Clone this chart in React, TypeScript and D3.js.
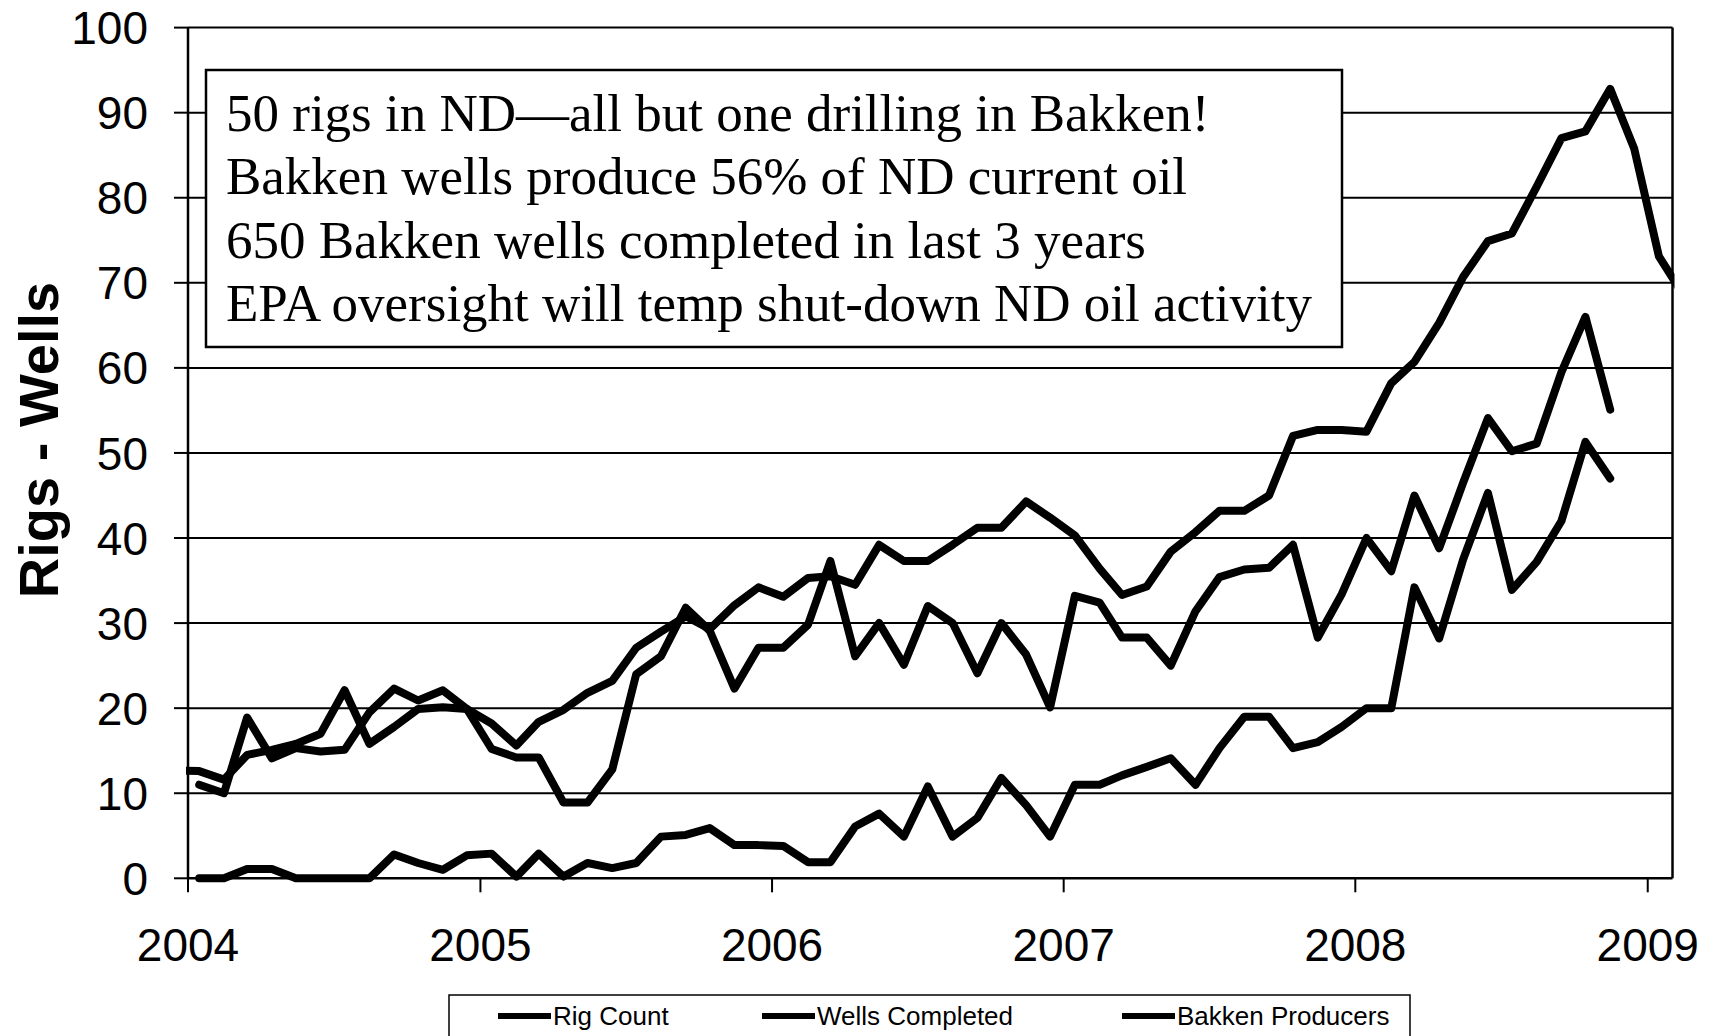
import * as d3 from 'd3'

// monthly values, plotted at mid-month
const rigStart = { year: 2003, month: 11 } // Dec 2003
const rigCount = [
  12.7,
  12.6, 11.6, 14.5, 15.1, 15.8, 17.0, 22.1, 15.8, 17.8, 19.9, 20.1, 19.9,
  18.2, 15.6, 18.4, 19.8, 21.8, 23.2, 27.1, 29.0, 30.8, 29.3, 32.1, 34.2,
  33.1, 35.3, 35.5, 34.5, 39.2, 37.3, 37.3, 39.2, 41.2, 41.2, 44.3, 42.4,
  40.3, 36.4, 33.3, 34.3, 38.4, 40.7, 43.2, 43.2, 45.0, 52.0, 52.7, 52.7,
  52.5, 58.2, 60.7, 65.3, 70.7, 74.9, 75.8, 81.3, 87.0, 87.8, 92.8, 85.8,
  73.1, 68.5,
]

const wellsStart = { year: 2004, month: 0 }
const wellsCompleted = [
  11.0, 10.0, 18.9, 14.1, 15.3, 14.9, 15.1, 19.5, 22.3, 20.9, 22.1, 19.9,
  15.2, 14.2, 14.2, 8.9, 8.9, 12.8, 24.0, 26.1, 31.8, 29.1, 22.3, 27.1,
  27.1, 29.8, 37.3, 26.1, 30.0, 25.1, 32.0, 30.0, 24.1, 30.0, 26.3, 20.1,
  33.2, 32.4, 28.3, 28.3, 25.0, 31.4, 35.4, 36.3, 36.5, 39.2, 28.3, 33.4,
  40.0, 36.1, 45.0, 38.8, 46.5, 54.1, 50.2, 51.1, 59.5, 66.0, 55.1,
]

const bakkenStart = { year: 2004, month: 0 }
const bakkenProducers = [
  0, 0, 1.1, 1.1, 0, 0, 0, 0, 2.8, 1.8, 1.0, 2.7,
  2.9, 0.2, 2.9, 0.2, 1.8, 1.2, 1.8, 4.9, 5.1, 5.9, 3.9, 3.9,
  3.8, 1.9, 1.9, 6.1, 7.6, 4.9, 10.8, 4.9, 7.1, 11.8, 8.6, 4.9,
  11.0, 11.0, 12.1, 13.1, 14.1, 11.0, 15.3, 19.0, 19.0, 15.3, 16.0, 17.8,
  20.0, 20.0, 34.2, 28.2, 37.5, 45.3, 33.9, 37.2, 42.0, 51.3, 47.0,
]

const yearTicks = [2004, 2005, 2006, 2007, 2008, 2009]
const valueTicks = [0, 10, 20, 30, 40, 50, 60, 70, 80, 90, 100]
const notes = [
  '50 rigs in ND\u2014all but one drilling in Bakken!',
  'Bakken wells produce 56% of ND current oil',
  '650 Bakken wells completed in last 3 years',
  'EPA oversight will temp shut-down ND oil activity',
]
const legendNames = ['Rig Count', 'Wells Completed', 'Bakken Producers']

const W = 1727
const H = 1036
const left = 188
const right = 1672.5
const sans = '"Liberation Sans", Arial, sans-serif'
const serif = '"Liberation Serif", "Times New Roman", serif'

type Pt = { date: Date; v: number }

function toPoints(vals: number[], start: { year: number; month: number }): Pt[] {
  return vals.map((v, i) => ({ date: new Date(Date.UTC(start.year, start.month + i, 15)), v }))
}

export default function App() {
  const x = d3.scaleUtc()
    .domain([new Date(Date.UTC(2004, 0, 1)), new Date(Date.UTC(2009, 1, 1))])
    .range([left, right])
  const y = d3.scaleLinear().domain([0, 100]).range([878.3, 27.6])

  const line = d3.line<Pt>().x(d => x(d.date)).y(d => y(d.v))

  const series = [
    toPoints(rigCount, rigStart),
    toPoints(wellsCompleted, wellsStart),
    toPoints(bakkenProducers, bakkenStart),
  ]

  const legendX = [498, 762, 1122]

  return (
    <svg width={W} height={H} style={{ position: 'absolute', left: 0, top: 0, background: '#fff' }}>
      <defs>
        <clipPath id="plot">
          <rect x={left - 2} y={0} width={right - left + 4} height={H} />
        </clipPath>
      </defs>
      <rect width={W} height={H} fill="#fff" />

      {/* grid */}
      {valueTicks.filter(t => t > 0).map(t => (
        <line key={t} x1={left} x2={right} y1={y(t)} y2={y(t)} stroke="#000" strokeWidth={2} />
      ))}
      {/* y ticks */}
      {valueTicks.map(t => (
        <line key={'yt' + t} x1={left - 14} x2={left} y1={y(t)} y2={y(t)} stroke="#000" strokeWidth={2} />
      ))}
      {/* x ticks */}
      {yearTicks.map(t => {
        const xx = x(new Date(Date.UTC(t, 0, 1)))
        return <line key={'xt' + t} x1={xx} x2={xx} y1={y(0)} y2={y(0) + 14} stroke="#000" strokeWidth={2} />
      })}
      {/* frame */}
      <line x1={left} x2={left} y1={y(100)} y2={y(0)} stroke="#000" strokeWidth={2.5} />
      <line x1={right} x2={right} y1={y(100)} y2={y(0)} stroke="#000" strokeWidth={2.5} />
      <line x1={left} x2={right} y1={y(0)} y2={y(0)} stroke="#000" strokeWidth={2.5} />

      {/* annotation box */}
      <rect x={206} y={70} width={1342 - 206} height={277} fill="#fff" stroke="#000" strokeWidth={2.5} />
      {notes.map((n, i) => (
        <text key={i} x={226} y={131 + i * 63.4} fontFamily={serif} fontSize={53} fill="#000">{n}</text>
      ))}

      {/* series */}
      <g clipPath="url(#plot)">
        {series.map((s, i) => (
          <path key={i} d={line(s) || ''} fill="none" stroke="#000" strokeWidth={8}
            strokeLinejoin="round" strokeLinecap="round" />
        ))}
      </g>

      {/* y labels */}
      {valueTicks.map(t => (
        <text key={'yl' + t} x={148} y={y(t)} dy="0.36em" textAnchor="end"
          fontFamily={sans} fontSize={46} fill="#000">{t}</text>
      ))}
      {/* x labels */}
      {yearTicks.map(t => (
        <text key={'xl' + t} x={x(new Date(Date.UTC(t, 0, 1)))} y={961} textAnchor="middle"
          fontFamily={sans} fontSize={46} fill="#000">{t}</text>
      ))}

      <text transform="translate(58,440) rotate(-90)" textAnchor="middle" fontFamily={sans}
        fontWeight="bold" fontSize={56} fill="#000">Rigs - Wells</text>

      {/* legend */}
      <rect x={449} y={995} width={961} height={60} fill="#fff" stroke="#000" strokeWidth={1.5} />
      {legendNames.map((n, i) => (
        <g key={n}>
          <line x1={legendX[i]} x2={legendX[i] + 53} y1={1016} y2={1016} stroke="#000" strokeWidth={6} />
          <text x={legendX[i] + 55} y={1025} fontFamily={sans} fontSize={26} fill="#000">{n}</text>
        </g>
      ))}
    </svg>
  )
}
